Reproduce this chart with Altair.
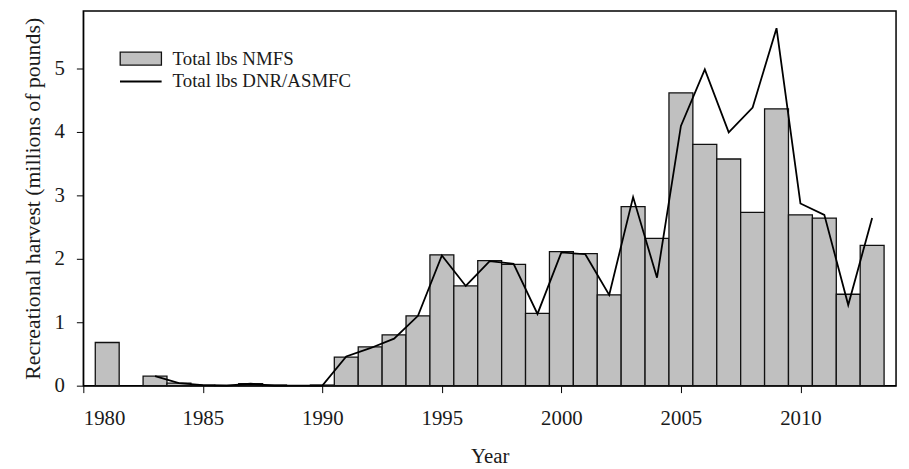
import altair as alt
import pandas as pd

years_nmfs = [1981, 1983, 1984, 1985, 1986, 1987, 1988, 1990, 1991, 1992, 1993, 1994,
              1995, 1996, 1997, 1998, 1999, 2000, 2001, 2002, 2003, 2004, 2005, 2006,
              2007, 2008, 2009, 2010, 2011, 2012, 2013]
lbs_nmfs = [0.68, 0.15, 0.04, 0.01, 0.005, 0.03, 0.01, 0.01, 0.45, 0.61, 0.80, 1.10,
            2.06, 1.57, 1.97, 1.91, 1.14, 2.11, 2.08, 1.43, 2.82, 2.32, 4.61, 3.80,
            3.57, 2.73, 4.36, 2.69, 2.64, 1.44, 2.21]

years_dnr = [1983, 1984, 1985, 1986, 1987, 1988, 1989, 1990, 1991, 1992, 1993, 1994,
             1995, 1996, 1997, 1998, 1999, 2000, 2001, 2002, 2003, 2004, 2005, 2006,
             2007, 2008, 2009, 2010, 2011, 2012, 2013]
lbs_dnr = [0.15, 0.04, 0.01, 0.0, 0.03, 0.0, 0.0, 0.0, 0.46, 0.59, 0.74, 1.10,
           2.05, 1.57, 1.96, 1.92, 1.13, 2.10, 2.07, 1.43, 2.97, 1.70, 4.09, 4.98,
           3.99, 4.38, 5.63, 2.87, 2.69, 1.27, 2.64]

x_ticks = [1980, 1985, 1990, 1995, 2000, 2005, 2010]
y_ticks = [0, 1, 2, 3, 4, 5]

bar_df = pd.DataFrame({"year": years_nmfs, "lbs": lbs_nmfs, "series": "Total lbs NMFS"})
line_df = pd.DataFrame({"year": years_dnr, "lbs": lbs_dnr, "series": "Total lbs DNR/ASMFC"})

FONT = "Liberation Serif"
TXT = "#1a1a1a"

x_scale = alt.Scale(domain=[1980, 2014], nice=False, zero=False)
y_scale = alt.Scale(domain=[0, 5.9], nice=False)

x_axis = alt.Axis(values=x_ticks, format="d", title="Year", grid=False,
                  tickSize=7, labelPadding=15, titlePadding=18,
                  labelFontSize=21, titleFontSize=21, labelFont=FONT, titleFont=FONT,
                  labelColor=TXT, titleColor=TXT, tickColor="black",
                  domainColor="black", labelFontWeight="normal", titleFontWeight="normal")
y_axis = alt.Axis(values=y_ticks, format="d", title="Recreational harvest (millions of pounds)",
                  grid=False, tickSize=7, labelPadding=12, titlePadding=10,
                  labelFontSize=21, titleFontSize=22, labelFont=FONT, titleFont=FONT,
                  labelColor=TXT, titleColor=TXT, tickColor="black",
                  domainColor="black", labelFontWeight="normal", titleFontWeight="normal")

bars = alt.Chart(bar_df).transform_calculate(
    x0="datum.year - 0.5", x1="datum.year + 0.5"
).mark_rect(stroke="#111", strokeWidth=1.3).encode(
    x=alt.X("x0:Q", scale=x_scale, axis=x_axis),
    x2="x1:Q",
    y=alt.Y("lbs:Q", scale=y_scale, axis=y_axis),
    y2=alt.datum(0),
    fill=alt.Fill("series:N",
                  scale=alt.Scale(domain=["Total lbs NMFS"], range=["#c0c0c0"]),
                  legend=alt.Legend(title=None, orient="none", legendX=44, legendY=34,
                                    symbolType="M-1.6,-0.5H1.6V0.5H-1.6Z", symbolSize=676,
                                    symbolStrokeColor="#111", symbolStrokeWidth=1.3,
                                    labelFont=FONT, labelFontSize=19, labelColor=TXT,
                                    labelOffset=18, labelLimit=400)),
)

line = alt.Chart(line_df).mark_line(color="black", strokeWidth=1.8).encode(
    x=alt.X("year:Q", scale=x_scale),
    y=alt.Y("lbs:Q", scale=y_scale),
    stroke=alt.Stroke("series:N",
                      scale=alt.Scale(domain=["Total lbs DNR/ASMFC"], range=["black"]),
                      legend=alt.Legend(title=None, orient="none", legendX=36, legendY=49,
                                        symbolType="stroke", symbolSize=1764,
                                        symbolStrokeWidth=2, symbolStrokeColor="black",
                                        labelFont=FONT, labelFontSize=19, labelColor=TXT,
                                        labelOffset=10, labelLimit=400)),
)

chart = alt.layer(bars, line).resolve_scale(fill="independent", stroke="independent").properties(
    width=820, height=378,
    autosize=alt.AutoSizeParams(type="none"),
    padding={"left": 76, "top": 1, "right": 5, "bottom": 80},
    background="white",
).configure_view(stroke="black", strokeWidth=1.5)

chart.save("out.html", embed_options={"renderer": "svg", "actions": False})
